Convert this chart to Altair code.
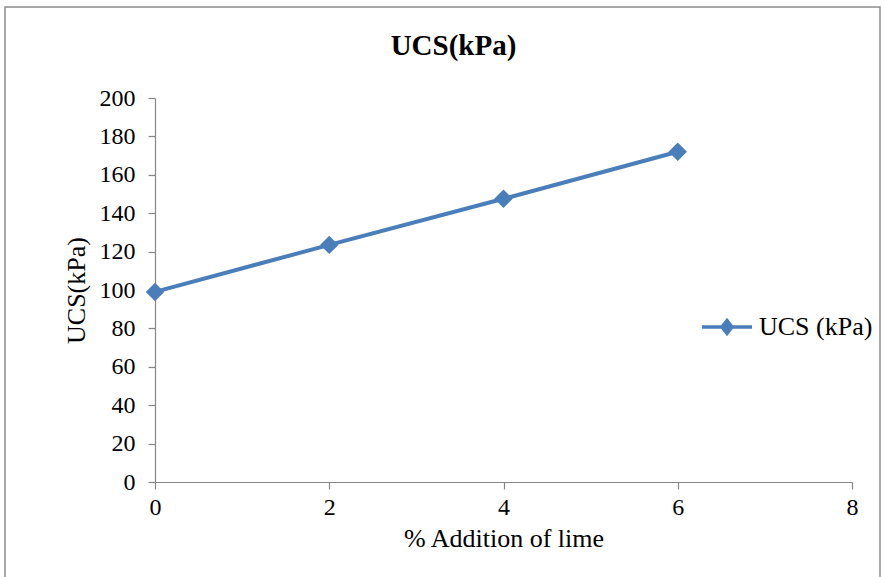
import altair as alt
import pandas as pd

lime_pct = [0, 2, 4, 6]
ucs_kpa = [99, 123.5, 147.5, 172]
series_name = ["UCS (kPa)"] * 4

df = pd.DataFrame({"lime": lime_pct, "ucs": ucs_kpa, "series": series_name})

FONT = "Liberation Serif"
BLUE = "#4a7ebb"
GRAY = "#868686"

x_enc = alt.X("lime:Q", scale=alt.Scale(domain=[0, 8], nice=False),
              axis=alt.Axis(values=[0, 2, 4, 6, 8], title="% Addition of lime", format="d",
                            labelOverlap=False, labelFlush=False,
                            grid=False, tickSize=7, labelPadding=6, titlePadding=6))
y_enc = alt.Y("ucs:Q", scale=alt.Scale(domain=[0, 200], nice=False),
              axis=alt.Axis(values=list(range(0, 201, 20)), title="UCS(kPa)", format="d",
                            labelOverlap=False, labelFlush=False,
                            grid=False, tickSize=7, labelPadding=13, titlePadding=10))

color_enc = alt.Color("series:N", scale=alt.Scale(range=[BLUE]),
                      legend=alt.Legend(title=None, orient="none", legendX=545, legendY=202,
                                        symbolType="M-1,0L1,0M0,-0.26L0.2,0L0,0.26L-0.2,0Z",
                                        symbolSize=2500, symbolStrokeWidth=3.5,
                                        symbolFillColor=BLUE, symbolStrokeColor=BLUE,
                                        labelFont=FONT, labelFontSize=26, labelColor="black",
                                        labelOffset=5))

border = alt.Chart(pd.DataFrame({"d": [0]})).mark_rect(
    fill=None, stroke="#8c8c8c", strokeWidth=1.5, clip=False
).encode(x=alt.value(-150), x2=alt.value(725), y=alt.value(-91), y2=alt.value(480))

line = alt.Chart(df).mark_line(strokeWidth=4).encode(x=x_enc, y=y_enc, color=color_enc)
pts = alt.Chart(df).mark_point(shape="diamond", filled=True, size=340, opacity=1).encode(
    x=x_enc, y=y_enc, color=alt.Color("series:N", legend=None))

chart = alt.layer(border, line, pts).properties(
    width=697, height=384,
    background="white",
    title=alt.TitleParams("UCS(kPa)", font=FONT, fontSize=29, fontWeight="bold",
                          color="black", anchor="middle", frame="group", dx=-50,
                          offset=0, dy=55),
    autosize=alt.AutoSizeParams(type="none"),
    padding={"left": 155, "top": 98, "right": 32, "bottom": 95},
).configure_view(stroke=None).configure_axis(
    domainColor=GRAY, tickColor=GRAY, labelFont=FONT, labelFontSize=24,
    labelColor="black", titleFont=FONT, titleFontSize=26, titleFontWeight="normal",
    titleColor="black", domainWidth=1.2, tickWidth=1.2
)

chart.save("out.html", embed_options={"renderer": "svg", "actions": False})
